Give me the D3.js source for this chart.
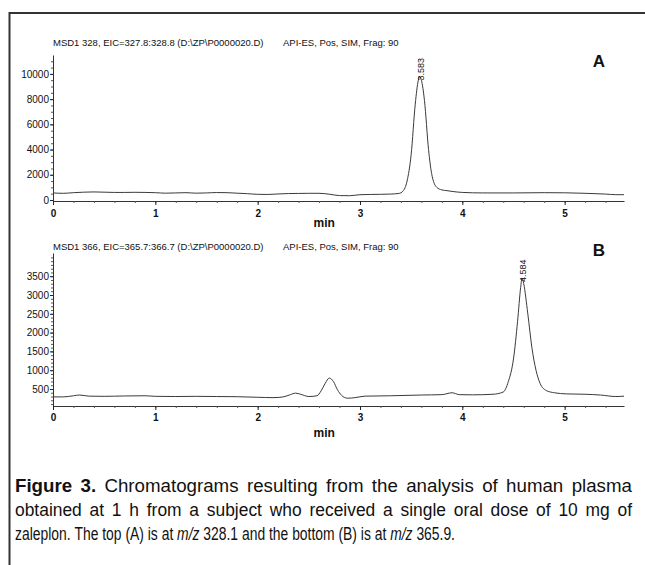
<!DOCTYPE html>
<html>
<head>
<meta charset="utf-8">
<script src="https://cdn.jsdelivr.net/npm/d3@7"></script>
<style>
  body { margin: 0; background: #fff; }
  svg text { font-family: "Liberation Sans", Arial, sans-serif; }
</style>
</head>
<body>
<div class="Chart-wrapper"></div>
<script>
// ---- data ----
// panel A, m/z 328 trace
const timeA = [0.00, 0.10, 0.20, 0.30, 0.40, 0.50, 0.60, 0.70, 0.80, 0.90, 1.00, 1.10, 1.20, 1.30, 1.40, 1.50,
  1.60, 1.70, 1.80, 1.90, 2.00, 2.10, 2.20, 2.30, 2.40, 2.50, 2.60, 2.70, 2.80, 2.90, 3.00, 3.10, 3.20, 3.30,
  3.38, 3.42, 3.46, 3.50, 3.54, 3.57, 3.583, 3.60, 3.63, 3.67, 3.70, 3.75, 3.80, 3.85, 3.90, 4.00, 4.20, 4.50,
  4.80, 5.00, 5.20, 5.40, 5.50, 5.58];
const abundA = [560, 530, 580, 620, 640, 620, 600, 600, 610, 600, 580, 540, 560, 580, 540, 560,
  590, 580, 540, 500, 450, 440, 480, 510, 520, 530, 530, 460, 350, 340, 420, 440, 450, 470,
  520, 700, 1500, 3600, 7600, 9500, 9800, 9500, 7900, 4000, 2100, 1000, 800, 740, 680, 600, 560, 560,
  580, 570, 530, 470, 420, 420];

// panel B, m/z 366 trace
const timeB = [0.00, 0.10, 0.20, 0.26, 0.35, 0.50, 0.70, 0.90, 1.00, 1.20, 1.40, 1.60, 1.80, 2.00, 2.15, 2.25,
  2.32, 2.37, 2.42, 2.50, 2.58, 2.62, 2.66, 2.70, 2.74, 2.78, 2.82, 2.88, 2.95, 3.05, 3.30, 3.60, 3.80, 3.90,
  3.97, 4.10, 4.30, 4.40, 4.45, 4.50, 4.54, 4.57, 4.584, 4.60, 4.64, 4.68, 4.72, 4.76, 4.82, 4.90, 5.02, 5.20,
  5.35, 5.50, 5.58];
const abundB = [290, 290, 320, 340, 310, 305, 315, 320, 305, 300, 305, 300, 295, 280, 270, 290,
  350, 390, 360, 300, 320, 450, 650, 790, 700, 480, 330, 255, 270, 310, 320, 340, 350, 400,
  350, 345, 360, 420, 700, 1300, 2300, 3200, 3450, 3300, 2500, 1600, 1000, 650, 460, 400, 370, 360,
  340, 300, 310];

// axis ticks and labels
const xTicks = [0, 1, 2, 3, 4, 5];
const yTicksA = [0, 2000, 4000, 6000, 8000, 10000];
const yTicksB = [500, 1000, 1500, 2000, 2500, 3000, 3500];
const peakA = { time: 3.583, label: "3.583" };
const peakB = { time: 4.584, label: "4.584" };

const headA = ["MSD1 328, EIC=327.8:328.8 (D:\\ZP\\P0000020.D)", "API-ES, Pos, SIM, Frag: 90"];
const headB = ["MSD1 366, EIC=365.7:366.7 (D:\\ZP\\P0000020.D)", "API-ES, Pos, SIM, Frag: 90"];

// caption lines, as [text, style] runs; the first two lines are justified
const caption = [
  [["Figure 3.", "b"], ["Chromatograms resulting from the analysis of human plasma", ""]],
  [["obtained at 1 h from a subject who received a single oral dose of 10 mg of", ""]],
  [["zaleplon. The top (A) is at", ""], ["m/z", "i"], ["328.1 and the bottom (B) is at", ""],
   ["m/z", "i"], ["365.9.", ""]],
];
const captionWidth = [617, 617, 440];

// ---- drawing ----
const W = 645, H = 565;
const svg = d3.select(".Chart-wrapper")
  .append("svg")
  .attr("width", W)
  .attr("height", H);

// frame (left + top rule)
svg.append("path")
  .attr("d", "M9.5,565 V13 H645")
  .attr("fill", "none")
  .attr("stroke", "#333")
  .attr("stroke-width", 2);

const x = d3.scaleLinear().domain([0, 5.58]).range([53, 624]);

function panel(opts) {
  const { times, vals, y, yMajor, yMinor, head, letter, letterY, peak, headY, minY } = opts;
  const g = svg.append("g");
  const y0 = y.range()[0];

  // header line
  g.append("text").attr("x", 53).attr("y", headY)
    .attr("font-size", 9.5).attr("fill", "#111").text(head[0]);
  g.append("text").attr("x", 283).attr("y", headY)
    .attr("font-size", 9.5).attr("fill", "#111").text(head[1]);

  // panel letter
  g.append("text").attr("x", 599).attr("y", letterY)
    .attr("text-anchor", "middle")
    .attr("font-size", 17).attr("font-weight", "bold").attr("fill", "#111")
    .text(letter);

  // y axis, minor ticks first
  g.append("g")
    .attr("transform", "translate(53,0)")
    .call(d3.axisLeft(y).tickValues(yMinor).tickSize(2).tickSizeOuter(0).tickFormat(""))
    .call(a => a.select(".domain").attr("stroke", "#333"))
    .selectAll("line").attr("stroke", "#555");
  const ya = g.append("g")
    .attr("transform", "translate(53,0)")
    .call(d3.axisLeft(y).tickValues(yMajor).tickSize(3).tickPadding(1).tickSizeOuter(0).tickFormat(d3.format("d")));
  ya.select(".domain").remove();
  ya.selectAll("line").attr("stroke", "#222");
  ya.selectAll("text").attr("font-size", 10).attr("fill", "#111")
    .attr("font-family", "'Liberation Sans', Arial, sans-serif");

  // x axis
  g.append("g")
    .attr("transform", `translate(0,${y0})`)
    .call(d3.axisBottom(x).tickValues(d3.range(0, 5.6, 0.2)).tickSize(2).tickSizeOuter(0).tickFormat(""))
    .call(a => a.select(".domain").attr("stroke", "#333"))
    .selectAll("line").attr("stroke", "#555");
  const xa = g.append("g")
    .attr("transform", `translate(0,${y0})`)
    .call(d3.axisBottom(x).tickValues(xTicks).tickSize(4).tickPadding(opts.xPad).tickSizeOuter(0).tickFormat(d3.format("d")));
  xa.select(".domain").remove();
  xa.selectAll("line").attr("stroke", "#222");
  xa.selectAll("text").attr("font-size", 10).attr("font-weight", "bold").attr("fill", "#111")
    .attr("font-family", "'Liberation Sans', Arial, sans-serif");

  g.append("text").attr("x", x(2.65)).attr("y", minY)
    .attr("text-anchor", "middle")
    .attr("font-size", 12).attr("font-weight", "bold").attr("fill", "#111")
    .text("min");

  // trace
  const pts = times.map((t, i) => [t, vals[i]]);
  g.append("path")
    .datum(pts)
    .attr("fill", "none")
    .attr("stroke", "#3a3a3a")
    .attr("stroke-width", 1)
    .attr("d", d3.line().x(d => x(d[0])).y(d => y(d[1])).curve(d3.curveMonotoneX));

  // peak retention time label
  const pv = vals[times.indexOf(peak.time)];
  g.append("text")
    .attr("transform", `translate(${x(peak.time) + 4},${y(pv) + 4}) rotate(-90)`)
    .attr("font-size", 9).attr("fill", "#111")
    .text(peak.label);
}

panel({
  times: timeA, vals: abundA,
  y: d3.scaleLinear().domain([-80, 11500]).range([201, 55]),
  yMajor: yTicksA, yMinor: d3.range(0, 11500, 500),
  head: headA, headY: 46, letter: "A", letterY: 67,
  peak: peakA, minY: 227, xPad: 5
});

panel({
  times: timeB, vals: abundB,
  y: d3.scaleLinear().domain([48, 4117]).range([406, 253]),
  yMajor: yTicksB, yMinor: d3.range(100, 4100, 100),
  head: headB, headY: 250, letter: "B", letterY: 256,
  peak: peakB, minY: 437, xPad: 4
});

// caption: words placed one by one, glyphs squeezed into a narrow face;
// the first two lines are justified with slightly wide word gaps
const capFont = 18.5;
const probe = svg.append("text").attr("font-size", capFont).attr("visibility", "hidden");
function wordWidth(w, st) {
  probe.attr("font-weight", st === "b" ? "bold" : null)
    .attr("font-style", st === "i" ? "italic" : null)
    .text(w);
  return probe.node().getComputedTextLength();
}
const spaceW = wordWidth("a a", "") - wordWidth("aa", "");

caption.forEach((runs, i) => {
  const words = [];
  runs.forEach(([s, st]) => s.split(" ").forEach(w => words.push({ w, st, len: wordWidth(w, st) })));
  const sum = d3.sum(words, d => d.len);
  const gap = i < 2 ? spaceW * 1.6 : spaceW;
  const squeeze = captionWidth[i] / (sum + gap * (words.length - 1));
  let cx = 0;
  const lg = svg.append("g")
    .attr("transform", `translate(15,${492 + i * 24}) scale(${squeeze},1)`);
  words.forEach(d => {
    lg.append("text")
      .attr("x", cx).attr("y", 0)
      .attr("font-size", capFont)
      .attr("fill", "#111")
      .attr("font-weight", d.st === "b" ? "bold" : null)
      .attr("font-style", d.st === "i" ? "italic" : null)
      .text(d.w);
    cx += d.len + gap;
  });
});
probe.remove();
</script>
</body>
</html>
